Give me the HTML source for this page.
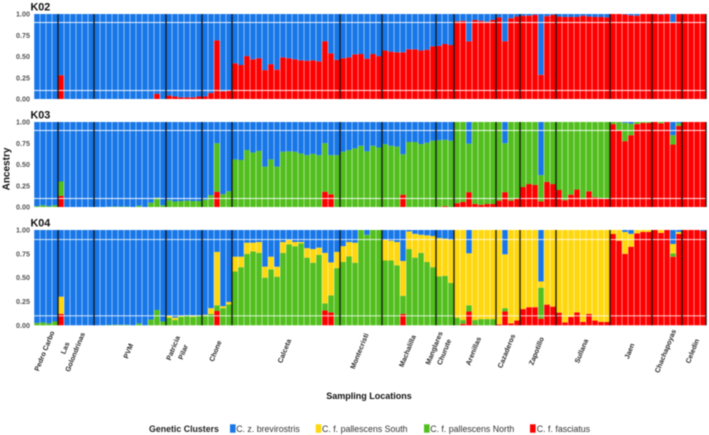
<!DOCTYPE html>
<html lang="en">
<head>
<meta charset="utf-8">
<title>Ancestry by sampling location</title>
<style>
html,body{margin:0;padding:0;background:#fff}
svg{display:block;font-family:"Liberation Sans",sans-serif;filter:blur(.4px)}
</style>
</head>
<body>
<svg id="chart" width="709" height="435" viewBox="0 0 709 435" xmlns="http://www.w3.org/2000/svg">
  <text transform="translate(9.5,169) rotate(-90)" text-anchor="middle" font-size="10" font-weight="bold" fill="#111">Ancestry</text>
  <text x="369" y="399" text-anchor="middle" font-size="9" font-weight="bold" fill="#111">Sampling Locations</text>
  <g>
    <text x="149" y="432" font-size="8.8" font-weight="bold" fill="#222">Genetic Clusters</text>
    <rect x="230" y="424.3" width="5.6" height="8.4" fill="#1877e8"/>
    <text x="236.2" y="432" font-size="8.8" fill="#333">C. z. brevirostris</text>
    <rect x="315.7" y="424.3" width="5.6" height="8.4" fill="#ffd70f"/>
    <text x="322" y="432" font-size="8.8" fill="#333">C. f. pallescens South</text>
    <rect x="424" y="424.3" width="5.6" height="8.4" fill="#52bf1e"/>
    <text x="430.2" y="432" font-size="8.8" fill="#333">C. f. pallescens North</text>
    <rect x="530" y="424.3" width="5.6" height="8.4" fill="#ff0000"/>
    <text x="536.8" y="432" font-size="8.8" fill="#333">C. f. fasciatus</text>
  </g>
</svg>
<script>
// Sampling locations (line breaks inside a label are marked with |)
const locations = ["Pedro Carbo","Las|Golondrinas","PVM","Patricia|Pilar","Chone","Calceta","Montecristi","Machalilla","Manglares|Churute","Arenillas","Cazaderos","Zapotillo","Sullana","Jaen","Chachapoyas","Celedin"];
// Number of individuals sampled at each location
const samplesPerLocation = [4,6,12,6,5,18,7,9,3,7,4,6,9,7,5,4];
const tickValues = [0,0.25,0.5,0.75,1];
const tickLabels = ["0.00","0.25","0.50","0.75","1.00"];
const guideValues = [0.1,0.9];

// K02 ancestry proportions; brevirostris is the remainder of each bar
const k02Fasciatus = [
0,0,0,0,
.28,0,0,0,0,0,
0,0,0,0,0,0,0,0,0,0,.06,0,
.04,.03,.02,.02,.02,.03,
.03,.07,.69,.09,.10,
.42,.40,.505,.467,.48,.34,.41,.345,.49,.48,.467,.455,.45,.455,.443,.68,.537,.46,
.48,.49,.525,.53,.475,.53,.505,
.57,.557,.55,.55,.585,.585,.57,.58,.62,
.625,.647,.635,
.915,.92,.68,.93,.92,.91,.93,
.96,.68,.95,.97,
.98,.98,.99,.285,.975,.99,
.97,.965,.965,.965,.98,.97,.965,.965,.96,
1,1,.995,.985,.98,1,1,
1,.995,1,.895,1,
1,1,1,1];

// K03 ancestry proportions
const k03Fasciatus = [
0,0,0,0,
.13,0,0,0,0,0,
0,0,0,0,0,0,0,0,0,0,0,0,
0,0,0,0,0,0,
0,0,.18,0,0,
0,0,0,0,0,0,0,0,0,0,0,0,0,0,0,.18,.15,0,
0,0,0,0,0,0,0,
0,0,0,.145,0,0,0,0,0,
0,.01,0,
.045,.06,.175,.035,.025,.035,.035,
.075,.175,.075,.105,
.235,.27,.26,.065,.295,.27,
.2,.08,.145,.205,.09,.185,.115,.10,.10,
.975,.90,.775,.845,.975,.99,.99,
1,.985,1,.735,.955,
1,1,1,1];
const k03PallescensNorth = [
.01,.02,.01,.02,
.17,0,0,0,0,0,
0,0,.003,.005,.005,.005,0,.015,0,.05,.11,.02,
.08,.065,.07,.075,.07,.07,
.085,.14,.57,.15,.185,
.56,.553,.67,.64,.66,.475,.56,.475,.65,.655,.65,.63,.61,.625,.61,.57,.46,.61,
.65,.67,.69,.72,.655,.72,.70,
.74,.72,.71,.475,.765,.765,.74,.755,.78,
.785,.78,.78,
.955,.94,.57,.965,.975,.965,.965,
.925,.575,.925,.895,
.765,.73,.74,.31,.705,.73,
.8,.92,.855,.795,.91,.815,.885,.90,.90,
.025,.10,.215,.135,.025,.01,.01,
0,.015,0,.11,.03,
0,0,0,0];

// K04 ancestry proportions
const k04Fasciatus = [
0,0,0,0,
.12,0,0,0,0,0,
0,0,0,0,0,0,0,0,0,0,0,0,
0,0,0,0,0,0,
0,0,.15,0,0,
0,0,0,0,0,0,0,0,0,0,0,0,0,0,0,.155,.135,0,
0,0,0,0,0,0,0,
0,0,0,.12,0,0,0,0,0,
0,0,0,
0,.015,.145,.003,0,0,0,
.01,.145,.02,.05,
.17,.19,.19,.07,.217,.196,
.133,.03,.087,.136,.035,.12,.05,.035,.035,
.958,.888,.75,.825,.965,.98,.98,
1,.97,1,.72,.958,
1,1,1,.99];
const k04PallescensNorth = [
.025,.03,.02,.04,
0,0,0,0,0,0,
0,0,.003,.005,.005,.005,0,.02,0,.06,.16,.04,
.08,.055,.09,.10,.09,.10,
.10,.12,.06,.18,.22,
.565,.61,.75,.776,.76,.50,.587,.51,.76,.85,.83,.86,.71,.657,.74,.075,.18,.60,
.665,.724,.657,1,.95,1,1,
.68,.68,.63,.19,.80,.71,.76,.665,.61,
.514,.52,.444,
.08,.04,.065,.052,.065,.065,.065,
0,.035,0,0,
0,0,0,.325,0,0,
0,0,0,0,0,0,0,0,0,
0,0,0,0,0,0,0,
0,0,0,.035,0,
0,0,0,0];
const k04PallescensSouth = [
0,0,0,0,
.18,0,0,0,0,0,
0,0,0,0,0,0,0,0,0,0,0,0,
.02,.025,.01,.005,.015,.005,
.01,.06,.56,.02,.025,
.155,.11,.117,.091,.114,.115,.133,.105,.114,.045,.044,.014,.10,.143,.075,.53,.345,.17,
.165,.15,.21,0,0,0,0,
.22,.208,.244,.365,.185,.25,.19,.279,.327,
.402,.39,.451,
.92,.945,.545,.945,.935,.935,.935,
.99,.565,.98,.95,
.83,.81,.81,.065,.783,.804,
.867,.97,.913,.864,.965,.88,.95,.965,.965,
.042,.112,.23,.135,.035,.02,.02,
0,.03,0,.098,.022,
0,0,0,0];

const SVGNS = "http://www.w3.org/2000/svg";
const svg = document.getElementById("chart");
const COLORS = {fasciatus:"#ff0000", north:"#52bf1e", south:"#ffd70f", brevirostris:"#1877e8"};
const PLOT_LEFT = 34, BAR_PITCH = 6;

const panels = [
  {title:"K02", top:14,  bottom:99,    titleY:10.5,  stack:[["fasciatus",k02Fasciatus]]},
  {title:"K03", top:122, bottom:207,   titleY:118.6, stack:[["fasciatus",k03Fasciatus],["north",k03PallescensNorth]]},
  {title:"K04", top:230, bottom:325.3, titleY:226.6, stack:[["fasciatus",k04Fasciatus],["north",k04PallescensNorth],["south",k04PallescensSouth]]}
];

function xScale(i){ return PLOT_LEFT + BAR_PITCH * i; }
function yScale(panel, v){ return panel.bottom - (panel.bottom - panel.top) * v; }
function make(tag, attrs, parent){
  const e = document.createElementNS(SVGNS, tag);
  for (const k in attrs) e.setAttribute(k, attrs[k]);
  parent.appendChild(e);
  return e;
}

const totalBars = samplesPerLocation.reduce((a,b)=>a+b,0);

panels.forEach(function(panel){
  const g = make("g", {}, svg);
  
  

  const title = make("text", {x:30.5, y:panel.titleY, "font-size":10.8, "font-weight":"bold", fill:"#111"}, g);
  
  
  title.textContent = panel.title;

  tickValues.forEach(function(v, t){
    const label = make("text", {x:30, y:yScale(panel, v) + 2.5, "text-anchor":"end", "font-size":7.2, "font-weight":"bold", fill:"#555"}, g);
    
    
    label.textContent = tickLabels[t];
  });

  for (let i = 0; i < totalBars; i++) {
    let cum = 0;
    panel.stack.forEach(function(entry){
      const value = entry[1][i];
      if (value > 0) {
        const seg = make("rect", {x:xScale(i) + 0.25, width:BAR_PITCH - 0.5, y:yScale(panel, cum + value), height:yScale(panel, cum) - yScale(panel, cum + value), fill:COLORS[entry[0]]}, g);
        
        
      }
      cum += value;
    });
    if (cum < 1) {
      const rest = make("rect", {x:xScale(i) + 0.25, width:BAR_PITCH - 0.5, y:yScale(panel, 1), height:yScale(panel, cum) - yScale(panel, 1), fill:COLORS.brevirostris}, g);
      
      
    }
  }

  guideValues.forEach(function(v){
    const guide = make("line", {x1:PLOT_LEFT, x2:xScale(totalBars), y1:yScale(panel, v), y2:yScale(panel, v), stroke:"#fff", "stroke-width":0.9, "stroke-opacity":0.9}, g);
    
    
  });

  let count = 0;
  samplesPerLocation.forEach(function(n){
    count += n;
    const sep = make("line", {x1:xScale(count), x2:xScale(count), y1:panel.top, y2:panel.bottom, stroke:"#000", "stroke-width":1.5, "stroke-opacity":0.82}, g);
    
    
  });
});

let start = 0;
locations.forEach(function(name, idx){
  const centre = xScale(start + samplesPerLocation[idx] / 2);
  start += samplesPerLocation[idx];
  const lines = name.split("|");
  lines.forEach(function(line, l){
    const two = lines.length === 2;
    const lx = two ? centre - 1 - (1 - l) * 10 : centre - 1.7;
    const ly = two ? 348 + l * 4 : 351;
    const label = make("text", {transform:"translate(" + lx + "," + ly + ") rotate(-68)", "text-anchor":"middle", dy:"0.35em", "font-size":7.1, "font-weight":"bold", fill:"#2a2a2a"}, svg);
    
    
    label.textContent = line;
  });
});
</script>
</body>
</html>
